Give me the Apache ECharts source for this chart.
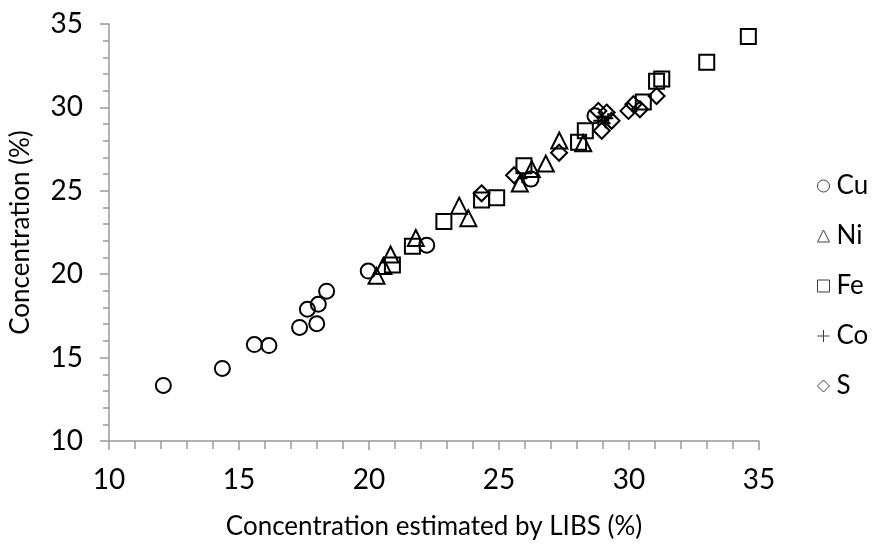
<!DOCTYPE html>
<html>
<head>
<meta charset="utf-8">
<script src="https://cdn.jsdelivr.net/npm/echarts@6/dist/echarts.min.js"></script>
<style>
  html, body { margin: 0; padding: 0; background: #fff; }
  #chart { width: 872px; height: 545px; }
</style>
</head>
<body>
<div id="chart"></div>
<script>
// values: [estimated by LIBS, concentration]
const cuData = [
  [12.09, 13.33], [14.36, 14.35], [15.59, 15.78], [16.15, 15.72], [17.33, 16.81],
  [17.99, 17.03], [17.63, 17.9], [18.05, 18.2], [18.37, 18.98], [19.97, 20.19],
  [22.22, 21.74], [26.23, 25.7], [28.69, 29.5]
];
const niData = [
  [20.29, 19.9], [20.55, 20.49], [20.83, 21.18], [21.8, 22.17], [23.47, 24.11],
  [23.82, 23.36], [25.8, 25.44], [26.26, 26.3], [26.8, 26.63], [27.32, 28.01],
  [28.24, 27.85]
];
const feData = [
  [20.9, 20.55], [21.67, 21.68], [22.88, 23.16], [24.33, 24.45], [24.91, 24.59],
  [25.96, 26.5], [28.06, 27.91], [28.32, 28.6], [30.55, 30.33], [31.06, 31.57],
  [31.26, 31.71], [32.99, 32.7], [34.59, 34.25]
];
const coData = [
  [25.9, 25.75], [28.82, 29.2], [28.95, 29.45], [29.1, 29.05], [29.2, 29.35]
];
const sData = [
  [24.33, 24.85], [25.58, 25.93], [27.31, 27.28], [28.82, 29.79], [29.14, 29.69],
  [29.33, 29.2], [28.95, 28.6], [29.98, 29.79], [30.17, 30.19], [30.42, 29.89],
  [31.06, 30.68]
];
const seriesNames = ['Cu', 'Ni', 'Fe', 'Co', 'S'];

const plusPath = 'path://M0,5L10,5M5,0L5,10';
const font = 'Lato, "Open Sans", sans-serif';

function markSeries(name, data, symbol, size) {
  return {
    name: name,
    type: 'scatter',
    data: data,
    symbol: symbol,
    symbolSize: size,
    itemStyle: { color: 'transparent', borderColor: '#000', borderWidth: 2, opacity: 1 },
    emphasis: { disabled: true }
  };
}

const chart = echarts.init(document.getElementById('chart'));
chart.setOption({
  animation: false,
  textStyle: { fontFamily: font },
  grid: { left: 109, right: 113, top: 24, bottom: 100 },
  legend: {
    orient: 'vertical',
    left: 812,
    top: 168,
    itemWidth: 12,
    itemHeight: 12,
    itemGap: 24,
    textStyle: { fontSize: 26, color: '#000', fontFamily: font, padding: [0, 0, 0, 2] },
    itemStyle: { color: 'transparent', borderColor: '#404040', borderWidth: 1 },
    data: [
      { name: 'Cu', icon: 'circle' },
      { name: 'Ni', icon: 'triangle' },
      { name: 'Fe', icon: 'rect' },
      { name: 'Co', icon: plusPath },
      { name: 'S', icon: 'diamond' }
    ]
  },
  xAxis: {
    type: 'value',
    min: 10, max: 35, interval: 5,
    name: 'Concentration estimated by LIBS (%)',
    nameLocation: 'middle',
    nameGap: 73,
    nameTextStyle: { fontSize: 26, color: '#000' },
    axisLine: { lineStyle: { color: '#999', width: 1.5 } },
    axisTick: { show: true, length: 9, lineStyle: { color: '#999', width: 1.5 } },
    minorTick: { show: true, splitNumber: 5, length: 8, lineStyle: { color: '#999', width: 1.5 } },
    axisLabel: { fontSize: 28, color: '#000', margin: 25 },
    splitLine: { show: false }
  },
  yAxis: {
    type: 'value',
    min: 10, max: 35, interval: 5,
    name: 'Concentration (%)',
    nameLocation: 'middle',
    nameGap: 75,
    nameTextStyle: { fontSize: 26, color: '#000' },
    axisLine: { show: true, lineStyle: { color: '#999', width: 1.5 } },
    axisTick: { show: true, length: 9, lineStyle: { color: '#999', width: 1.5 } },
    minorTick: { show: true, splitNumber: 5, length: 6, lineStyle: { color: '#999', width: 1.5 } },
    axisLabel: { fontSize: 28, color: '#000', margin: 26 },
    splitLine: { show: false }
  },
  series: [
    markSeries(seriesNames[0], cuData, 'circle', 15),
    markSeries(seriesNames[1], niData, 'triangle', 16),
    markSeries(seriesNames[2], feData, 'rect', 15),
    markSeries(seriesNames[3], coData, plusPath, 10),
    markSeries(seriesNames[4], sData, 'diamond', 16)
  ]
});
</script>
</body>
</html>
